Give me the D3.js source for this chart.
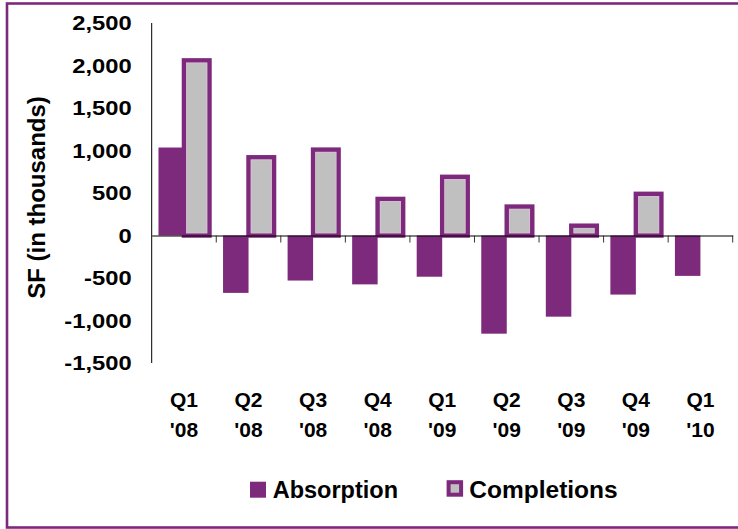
<!DOCTYPE html>
<html>
<head>
<meta charset="utf-8">
<script src="https://cdn.jsdelivr.net/npm/d3@7"></script>
<style>
  body { margin: 0; background: #fff; }
  text { font-family: "Liberation Sans", Arial, sans-serif; font-weight: bold; fill: #000; }
</style>
</head>
<body>
<div id="chart-area"></div>
<script>
// data
var quarters = ["Q1", "Q2", "Q3", "Q4", "Q1", "Q2", "Q3", "Q4", "Q1"];
var years = ["'08", "'08", "'08", "'08", "'09", "'09", "'09", "'09", "'10"];
var absorption = [1035, -675, -530, -575, -485, -1155, -955, -695, -475];
var completions = [2060, 920, 1010, 430, 690, 340, 115, 490, null];
var seriesNames = ["Absorption", "Completions"];
var yTicks = [-1500, -1000, -500, 0, 500, 1000, 1500, 2000, 2500];

var purple = "#7e2a7c";
var grey = "#c0c0c0";

var width = 738, height = 529;
var plot = {left: 151.7, right: 732.7, top: 23, bottom: 363};

var svg = d3.select("#chart-area").append("svg")
    .attr("width", width)
    .attr("height", height);

// purple frame
svg.append("rect")
    .attr("x", 7).attr("y", 3.5)
    .attr("width", 745).attr("height", 524)
    .attr("fill", "none")
    .attr("stroke", purple)
    .attr("stroke-width", 2.6);

var cats = quarters.map((q, i) => i);

var x = d3.scaleBand()
    .domain(cats)
    .range([plot.left, plot.right])
    .padding(0);

var x1 = d3.scaleBand()
    .domain(seriesNames)
    .range([0, x.bandwidth()])
    .paddingInner(0)
    .paddingOuter(0.266);

var y = d3.scaleLinear()
    .domain([-1500, 2500])
    .range([plot.bottom, plot.top]);

var g = svg.append("g");

// absorption bars
g.selectAll("rect.abs").data(absorption)
    .enter().append("rect")
    .attr("class", "abs")
    .attr("x", (d, i) => x(i) + x1("Absorption"))
    .attr("width", x1.bandwidth())
    .attr("y", d => y(Math.max(0, d)))
    .attr("height", d => Math.abs(y(d) - y(0)))
    .attr("fill", purple);

// completions bars (grey with thick purple border)
var comp = completions.map((v, i) => ({i: i, v: v})).filter(d => d.v != null);

g.selectAll("rect.comp").data(comp)
    .enter().append("rect")
    .attr("class", "comp")
    .attr("x", d => x(d.i) + x1("Completions"))
    .attr("width", x1.bandwidth())
    .attr("y", d => y(d.v))
    .attr("height", d => y(0) - y(d.v))
    .attr("fill", grey)
    .attr("stroke", purple)
    .attr("stroke-width", 4.5);

g.selectAll("rect.compin").data(comp)
    .enter().append("rect")
    .attr("class", "compin")
    .attr("x", d => x(d.i) + x1("Completions") + 2.6)
    .attr("width", x1.bandwidth() - 5.2)
    .attr("y", d => y(d.v) + 2.6)
    .attr("height", d => Math.max(0, y(0) - y(d.v) - 5.2))
    .attr("fill", "none")
    .attr("stroke", "#dcbcd9")
    .attr("stroke-width", 0.8);

// y axis line
svg.append("line")
    .attr("x1", plot.left).attr("x2", plot.left)
    .attr("y1", plot.top).attr("y2", plot.bottom)
    .attr("stroke", "#000").attr("stroke-width", 1);

// zero line with category ticks
var xAxis = d3.axisBottom(x)
    .tickValues([])
    .tickSizeOuter(0);
var xAxisG = svg.append("g")
    .attr("transform", "translate(0," + y(0) + ")")
    .call(xAxis);
xAxisG.select(".domain").attr("stroke", "#000").attr("stroke-width", 1.2);

var bounds = cats.map(i => x(i) + x.bandwidth());
xAxisG.selectAll("line.cat").data(bounds)
    .enter().append("line")
    .attr("class", "cat")
    .attr("x1", d => d).attr("x2", d => d)
    .attr("y1", 0).attr("y2", 7)
    .attr("stroke", "#333").attr("stroke-width", 1);

// y tick labels (plain hyphen for negatives, like the original)
var fmt = d3.format(",");
svg.selectAll("text.ytick").data(yTicks)
    .enter().append("text")
    .attr("class", "ytick")
    .attr("transform", d => "translate(131.7," + y(d) + ") scale(1.22,1)")
    .attr("dy", "0.36em")
    .attr("text-anchor", "end")
    .attr("font-size", "19.5px")
    .text(d => fmt(d).replace("\u2212", "-"));

// y axis title
svg.append("text")
    .attr("transform", "translate(45,197.5) rotate(-90)")
    .attr("text-anchor", "middle")
    .attr("font-size", "24px")
    .text("SF (in thousands)");

// category labels on two lines
var catLabels = svg.selectAll("text.cat").data(cats)
    .enter().append("text")
    .attr("class", "cat")
    .attr("text-anchor", "middle")
    .attr("font-size", "21px");
catLabels.append("tspan")
    .attr("x", d => x(d) + x.bandwidth() / 2)
    .attr("y", 406.8)
    .text(d => quarters[d]);
catLabels.append("tspan")
    .attr("x", d => x(d) + x.bandwidth() / 2)
    .attr("y", 436.8)
    .text(d => years[d]);

// legend
var legend = svg.append("g");
legend.append("rect")
    .attr("x", 250).attr("y", 481.7)
    .attr("width", 16).attr("height", 16)
    .attr("fill", purple);
legend.append("text")
    .attr("x", 272.7).attr("y", 497.5)
    .attr("font-size", "23.5px")
    .text(seriesNames[0]);

legend.append("rect")
    .attr("x", 448.6).attr("y", 482.2)
    .attr("width", 12.5).attr("height", 12.5)
    .attr("fill", grey)
    .attr("stroke", purple)
    .attr("stroke-width", 4);
legend.append("text")
    .attr("x", 469.3).attr("y", 497.5)
    .attr("font-size", "24.5px")
    .text(seriesNames[1]);
</script>
</body>
</html>
